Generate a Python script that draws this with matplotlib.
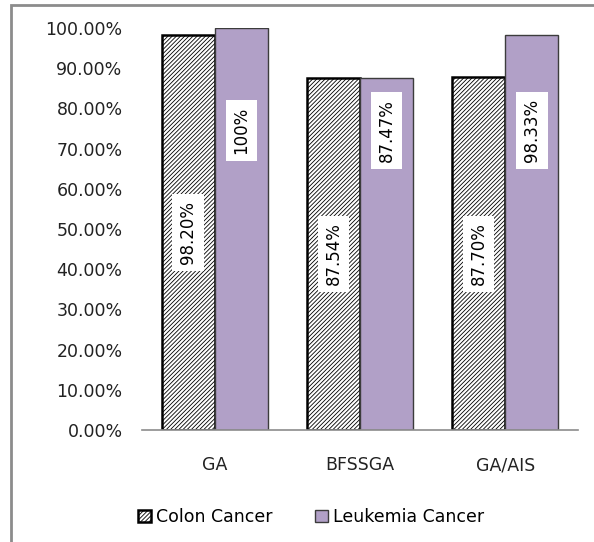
import matplotlib.pyplot as plt
import numpy as np
from matplotlib.patches import Rectangle

plt.rcParams['font.family'] = ['DejaVu Sans']
plt.rcParams['hatch.linewidth'] = 0.6

methods = ['GA', 'BFSSGA', 'GA/AIS']
colon = [98.20, 87.54, 87.70]
leukemia = [100.0, 87.47, 98.33]
colon_labels = ['98.20%', '87.54%', '87.70%']
leukemia_labels = ['100%', '87.47%', '98.33%']

fig = plt.figure(figsize=(5.94, 5.42), dpi=100)
fig.patch.set_facecolor('white')

# grey outline of the chart area (only left and top edges fall inside the canvas)
fig.add_artist(Rectangle((11 / 594, -0.1), 1.2, (542 - 5) / 542 + 0.1,
                         transform=fig.transFigure, fill=False,
                         edgecolor='#8c8c8c', linewidth=2))

ax = fig.add_axes([142 / 594, (542 - 430) / 542, 436 / 594, 402 / 542])

x = np.arange(len(methods))
w = 0.365
ax.bar(x - w / 2, colon, w, facecolor='white', edgecolor='black',
       hatch='////////', linewidth=1.8, label='Colon Cancer', zorder=2)
ax.bar(x + w / 2, leukemia, w, facecolor='#b1a0c7', edgecolor='#3c3c3c',
       linewidth=1.0, label='Leukemia Cancer', zorder=2)

box = dict(boxstyle='square,pad=0.4', facecolor='white', edgecolor='none')
for i in range(len(methods)):
    ax.text(x[i] - w / 2, colon[i] / 2, colon_labels[i], rotation=90,
            ha='center', va='center', fontsize=12, bbox=box, zorder=3)
    ax.text(x[i] + w / 2, 74.5, leukemia_labels[i], rotation=90,
            ha='center', va='center', fontsize=12, bbox=box, zorder=3)

ax.set_xlim(-0.5, len(methods) - 0.5)
ax.set_ylim(0, 100)
ax.set_yticks(np.arange(0, 101, 10))
ax.set_yticklabels([f'{v:.2f}%' for v in range(0, 101, 10)])
ax.set_xticks(x)
ax.set_xticklabels(methods)
ax.tick_params(axis='both', length=0, labelsize=12.5, colors='#222222')
ax.tick_params(axis='y', pad=14)
ax.tick_params(axis='x', pad=19)

for side in ['top', 'right', 'left']:
    ax.spines[side].set_visible(False)
ax.spines['bottom'].set_color('#8c8c8c')
ax.spines['bottom'].set_linewidth(1.2)

fig.legend(loc='center', bbox_to_anchor=(311 / 594, 1 - 517 / 542), ncol=2,
           frameon=False, fontsize=12.5, handlelength=0.75, handleheight=0.75,
           handletextpad=0.3, columnspacing=2.4)

fig.savefig('out.png', dpi=100)
